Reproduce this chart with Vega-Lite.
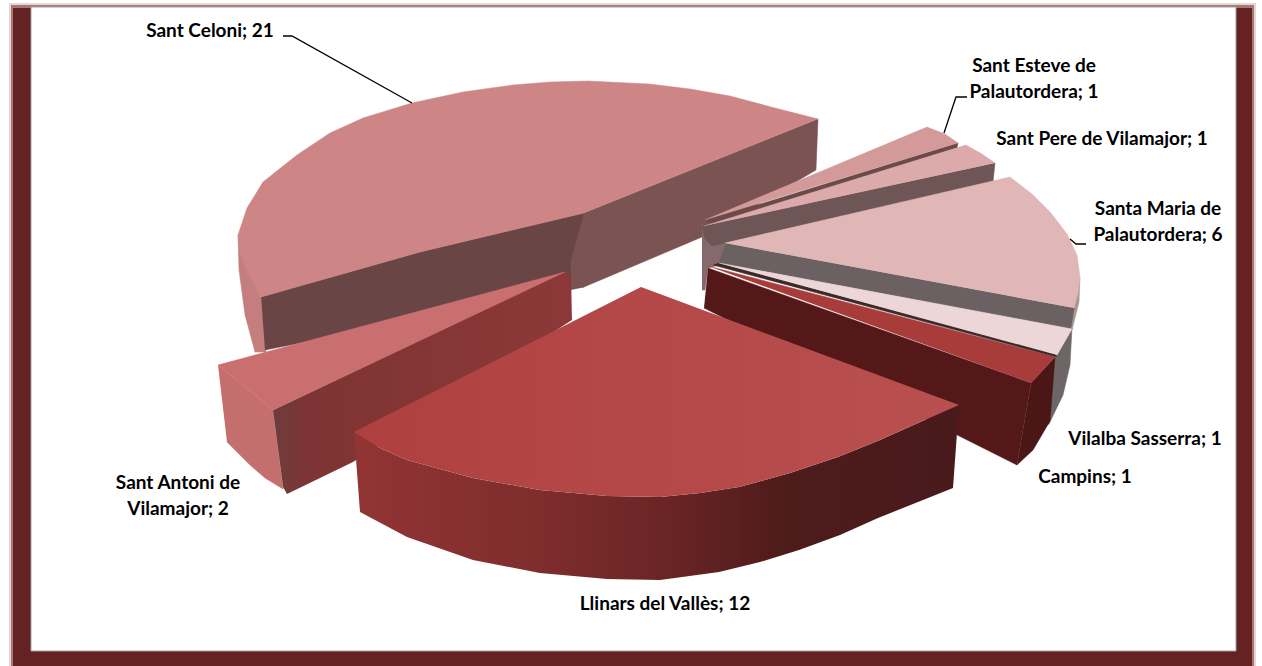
{
"$schema":"https://vega.github.io/schema/vega-lite/v6.json",
"width":1262,"height":666,"padding":0,
"autosize":{"type":"fit","contains":"padding"},
"background":"white",
"view":{"stroke":null},
"datasets":{
"frame":[
{"part":"halo","x":9,"x2":1256,"y":3,"y2":666},
{"part":"fade","x":11,"x2":1254,"y":5,"y2":666},
{"part":"border","x":13,"x2":1252,"y":8,"y2":666},
{"part":"plot","x":31,"x2":1236,"y":7,"y2":651}
],
"faces":[
{"face":"celoni_rim","n":0,"x":238,"y":235},{"face":"celoni_rim","n":1,"x":239,"y":270},{"face":"celoni_rim","n":2,"x":245,"y":315},{"face":"celoni_rim","n":3,"x":255,"y":352},{"face":"celoni_rim","n":4,"x":266,"y":352},{"face":"celoni_rim","n":5,"x":261,"y":297},
{"face":"celoni_wall_a","n":0,"x":261,"y":297},{"face":"celoni_wall_a","n":1,"x":420,"y":252},{"face":"celoni_wall_a","n":2,"x":584,"y":213},{"face":"celoni_wall_a","n":3,"x":584,"y":287},{"face":"celoni_wall_a","n":4,"x":265,"y":350},
{"face":"celoni_wall_b","n":0,"x":584,"y":213},{"face":"celoni_wall_b","n":1,"x":818,"y":119},{"face":"celoni_wall_b","n":2,"x":816,"y":170},{"face":"celoni_wall_b","n":3,"x":702,"y":237},{"face":"celoni_wall_b","n":4,"x":584,"y":287},{"face":"celoni_wall_b","n":5,"x":571,"y":288},{"face":"celoni_wall_b","n":6,"x":571,"y":260},
{"face":"celoni_top","n":0,"x":818,"y":119},{"face":"celoni_top","n":1,"x":771,"y":107},{"face":"celoni_top","n":2,"x":730,"y":96},{"face":"celoni_top","n":3,"x":690,"y":89},{"face":"celoni_top","n":4,"x":649,"y":84},{"face":"celoni_top","n":5,"x":588,"y":81},{"face":"celoni_top","n":6,"x":550,"y":82},{"face":"celoni_top","n":7,"x":513,"y":85},{"face":"celoni_top","n":8,"x":463,"y":92},{"face":"celoni_top","n":9,"x":412,"y":103},{"face":"celoni_top","n":10,"x":363,"y":118},{"face":"celoni_top","n":11,"x":330,"y":133},{"face":"celoni_top","n":12,"x":297,"y":155},{"face":"celoni_top","n":13,"x":263,"y":182},{"face":"celoni_top","n":14,"x":247,"y":208},{"face":"celoni_top","n":15,"x":238,"y":235},{"face":"celoni_top","n":16,"x":240,"y":252},{"face":"celoni_top","n":17,"x":247,"y":272},{"face":"celoni_top","n":18,"x":261,"y":297},{"face":"celoni_top","n":19,"x":420,"y":252},{"face":"celoni_top","n":20,"x":584,"y":213},
{"face":"antoni_rim","n":0,"x":218,"y":365},{"face":"antoni_rim","n":1,"x":273,"y":410},{"face":"antoni_rim","n":2,"x":283,"y":489},{"face":"antoni_rim","n":3,"x":265,"y":478},{"face":"antoni_rim","n":4,"x":250,"y":465},{"face":"antoni_rim","n":5,"x":227,"y":442},
{"face":"antoni_wall","n":0,"x":273,"y":410},{"face":"antoni_wall","n":1,"x":563,"y":272},{"face":"antoni_wall","n":2,"x":571,"y":276},{"face":"antoni_wall","n":3,"x":572,"y":320},{"face":"antoni_wall","n":4,"x":353,"y":462},{"face":"antoni_wall","n":5,"x":287,"y":494},{"face":"antoni_wall","n":6,"x":283,"y":487},
{"face":"antoni_top","n":0,"x":218,"y":365},{"face":"antoni_top","n":1,"x":565,"y":272},{"face":"antoni_top","n":2,"x":273,"y":410},
{"face":"core","n":0,"x":702,"y":224},{"face":"core","n":1,"x":725,"y":243},{"face":"core","n":2,"x":719,"y":265},{"face":"core","n":3,"x":708,"y":268},{"face":"core","n":4,"x":705,"y":290},{"face":"core","n":5,"x":702,"y":290},
{"face":"esteve_wall","n":0,"x":705,"y":221},{"face":"esteve_wall","n":1,"x":958,"y":143},{"face":"esteve_wall","n":2,"x":957,"y":148},{"face":"esteve_wall","n":3,"x":712,"y":224},
{"face":"esteve_top","n":0,"x":705,"y":220},{"face":"esteve_top","n":1,"x":927,"y":127},{"face":"esteve_top","n":2,"x":945,"y":134},{"face":"esteve_top","n":3,"x":958,"y":143},
{"face":"pere_wall","n":0,"x":702,"y":226},{"face":"pere_wall","n":1,"x":995,"y":163},{"face":"pere_wall","n":2,"x":993,"y":182},{"face":"pere_wall","n":3,"x":712,"y":246},{"face":"pere_wall","n":4,"x":704,"y":238},
{"face":"pere_top","n":0,"x":704,"y":226},{"face":"pere_top","n":1,"x":966,"y":145},{"face":"pere_top","n":2,"x":982,"y":154},{"face":"pere_top","n":3,"x":995,"y":163},
{"face":"vilalba_rim","n":0,"x":1057,"y":355},{"face":"vilalba_rim","n":1,"x":1072,"y":328},{"face":"vilalba_rim","n":2,"x":1070,"y":365},{"face":"vilalba_rim","n":3,"x":1063,"y":395},{"face":"vilalba_rim","n":4,"x":1049,"y":424},{"face":"vilalba_rim","n":5,"x":1035,"y":430},{"face":"vilalba_rim","n":6,"x":1040,"y":380},
{"face":"campins_wall","n":0,"x":708,"y":268},{"face":"campins_wall","n":1,"x":1031,"y":383},{"face":"campins_wall","n":2,"x":1017,"y":465},{"face":"campins_wall","n":3,"x":704,"y":308},
{"face":"campins_rim","n":0,"x":1031,"y":383},{"face":"campins_rim","n":1,"x":1055,"y":357},{"face":"campins_rim","n":2,"x":1050,"y":421},{"face":"campins_rim","n":3,"x":1033,"y":450},{"face":"campins_rim","n":4,"x":1017,"y":465},
{"face":"campins_top","n":0,"x":708,"y":266},{"face":"campins_top","n":1,"x":1055,"y":357},{"face":"campins_top","n":2,"x":1031,"y":383},
{"face":"maria_rim","n":0,"x":1080,"y":277},{"face":"maria_rim","n":1,"x":1079,"y":302},{"face":"maria_rim","n":2,"x":1072,"y":330},{"face":"maria_rim","n":3,"x":1070,"y":310},
{"face":"maria_wall","n":0,"x":725,"y":243},{"face":"maria_wall","n":1,"x":1074,"y":308},{"face":"maria_wall","n":2,"x":1071,"y":329},{"face":"maria_wall","n":3,"x":719,"y":263},
{"face":"maria_top","n":0,"x":725,"y":243},{"face":"maria_top","n":1,"x":1010,"y":177},{"face":"maria_top","n":2,"x":1032,"y":194},{"face":"maria_top","n":3,"x":1051,"y":213},{"face":"maria_top","n":4,"x":1067,"y":234},{"face":"maria_top","n":5,"x":1077,"y":255},{"face":"maria_top","n":6,"x":1080,"y":277},{"face":"maria_top","n":7,"x":1078,"y":293},{"face":"maria_top","n":8,"x":1074,"y":308},
{"face":"vilalba_edge","n":0,"x":718,"y":263},{"face":"vilalba_edge","n":1,"x":1057,"y":354},{"face":"vilalba_edge","n":2,"x":1056,"y":357},{"face":"vilalba_edge","n":3,"x":713,"y":265},
{"face":"vilalba_top","n":0,"x":719,"y":263},{"face":"vilalba_top","n":1,"x":1072,"y":329},{"face":"vilalba_top","n":2,"x":1057,"y":355},
{"face":"llinars_side","n":0,"x":354,"y":432},{"face":"llinars_side","n":1,"x":380,"y":448},{"face":"llinars_side","n":2,"x":407,"y":460},{"face":"llinars_side","n":3,"x":473,"y":478},{"face":"llinars_side","n":4,"x":540,"y":490},{"face":"llinars_side","n":5,"x":607,"y":496},{"face":"llinars_side","n":6,"x":660,"y":497},{"face":"llinars_side","n":7,"x":700,"y":493},{"face":"llinars_side","n":8,"x":739,"y":487},{"face":"llinars_side","n":9,"x":790,"y":473},{"face":"llinars_side","n":10,"x":838,"y":457},{"face":"llinars_side","n":11,"x":880,"y":440},{"face":"llinars_side","n":12,"x":918,"y":423},{"face":"llinars_side","n":13,"x":959,"y":405},{"face":"llinars_side","n":14,"x":953,"y":488},{"face":"llinars_side","n":15,"x":918,"y":502},{"face":"llinars_side","n":16,"x":878,"y":518},{"face":"llinars_side","n":17,"x":840,"y":535},{"face":"llinars_side","n":18,"x":799,"y":550},{"face":"llinars_side","n":19,"x":760,"y":562},{"face":"llinars_side","n":20,"x":719,"y":572},{"face":"llinars_side","n":21,"x":660,"y":580},{"face":"llinars_side","n":22,"x":607,"y":579},{"face":"llinars_side","n":23,"x":540,"y":573},{"face":"llinars_side","n":24,"x":473,"y":560},{"face":"llinars_side","n":25,"x":407,"y":537},{"face":"llinars_side","n":26,"x":360,"y":512},
{"face":"llinars_top","n":0,"x":641,"y":287},{"face":"llinars_top","n":1,"x":959,"y":405},{"face":"llinars_top","n":2,"x":918,"y":423},{"face":"llinars_top","n":3,"x":880,"y":440},{"face":"llinars_top","n":4,"x":838,"y":457},{"face":"llinars_top","n":5,"x":790,"y":473},{"face":"llinars_top","n":6,"x":739,"y":487},{"face":"llinars_top","n":7,"x":700,"y":493},{"face":"llinars_top","n":8,"x":660,"y":497},{"face":"llinars_top","n":9,"x":607,"y":496},{"face":"llinars_top","n":10,"x":540,"y":490},{"face":"llinars_top","n":11,"x":473,"y":478},{"face":"llinars_top","n":12,"x":407,"y":460},{"face":"llinars_top","n":13,"x":380,"y":448},{"face":"llinars_top","n":14,"x":354,"y":432}
],
"leaders":[
{"slice":"Sant Celoni","n":0,"x":283,"y":36},{"slice":"Sant Celoni","n":1,"x":292,"y":36},{"slice":"Sant Celoni","n":2,"x":412,"y":103},
{"slice":"Sant Esteve de Palautordera","n":0,"x":967,"y":97},{"slice":"Sant Esteve de Palautordera","n":1,"x":956,"y":97},{"slice":"Sant Esteve de Palautordera","n":2,"x":944,"y":133},
{"slice":"Santa Maria de Palautordera","n":0,"x":1086,"y":244},{"slice":"Santa Maria de Palautordera","n":1,"x":1076,"y":244},{"slice":"Santa Maria de Palautordera","n":2,"x":1070,"y":239}
],
"labels":[
{"line":"Sant Celoni; 21","x":210,"y":31},
{"line":"Sant Esteve de","x":1034,"y":66},
{"line":"Palautordera; 1","x":1034,"y":92},
{"line":"Sant Pere de Vilamajor; 1","x":1102,"y":139},
{"line":"Santa Maria de","x":1158,"y":209},
{"line":"Palautordera; 6","x":1158,"y":235},
{"line":"Vilalba Sasserra; 1","x":1145,"y":439},
{"line":"Campins; 1","x":1085,"y":477},
{"line":"Sant Antoni de","x":178,"y":483},
{"line":"Vilamajor; 2","x":178,"y":509},
{"line":"Llinars del Vallès; 12","x":665,"y":604}
]
},
"encoding":{
"x":{"field":"x","type":"quantitative","scale":{"domain":[0,1262],"nice":false,"zero":false},"axis":null},
"y":{"field":"y","type":"quantitative","scale":{"domain":[666,0],"nice":false,"zero":false},"axis":null}
},
"layer":[
{"data":{"name":"frame"},"transform":[{"filter":{"field":"part","equal":"halo"}}],"mark":{"type":"rect","fill":"#e6d6d5"},"encoding":{"x2":{"field":"x2"},"y2":{"field":"y2"}}},
{"data":{"name":"frame"},"transform":[{"filter":{"field":"part","equal":"fade"}}],"mark":{"type":"rect","fill":"#a87877"},"encoding":{"x2":{"field":"x2"},"y2":{"field":"y2"}}},
{"data":{"name":"frame"},"transform":[{"filter":{"field":"part","equal":"border"}}],"mark":{"type":"rect","fill":"#652222"},"encoding":{"x2":{"field":"x2"},"y2":{"field":"y2"}}},
{"data":{"name":"frame"},"transform":[{"filter":{"field":"part","equal":"plot"}}],"mark":{"type":"rect","fill":"#ffffff","stroke":"#a0a0a0","strokeWidth":1},"encoding":{"x2":{"field":"x2"},"y2":{"field":"y2"}}},
{"data":{"name":"faces"},"transform":[{"filter":{"field":"face","equal":"celoni_rim"}}],"mark":{"type":"line","fill":"#c47e7e","stroke":"#c47e7e","strokeWidth":0.5},"encoding":{"order":{"field":"n"}}},
{"data":{"name":"faces"},"transform":[{"filter":{"field":"face","equal":"celoni_wall_a"}}],"mark":{"type":"line","fill":"#6a4545","stroke":"#6a4545","strokeWidth":0.5},"encoding":{"order":{"field":"n"}}},
{"data":{"name":"faces"},"transform":[{"filter":{"field":"face","equal":"celoni_wall_b"}}],"mark":{"type":"line","fill":"#7b5353","stroke":"#7b5353","strokeWidth":0.5},"encoding":{"order":{"field":"n"}}},
{"data":{"name":"faces"},"transform":[{"filter":{"field":"face","equal":"celoni_top"}}],"mark":{"type":"line","fill":"#cd8585","stroke":"#cd8585","strokeWidth":0.5},"encoding":{"order":{"field":"n"}}},
{"data":{"name":"faces"},"transform":[{"filter":{"field":"face","equal":"antoni_rim"}}],"mark":{"type":"line","fill":"#c46e6e","stroke":"#c46e6e","strokeWidth":0.5},"encoding":{"order":{"field":"n"}}},
{"data":{"name":"faces"},"transform":[{"filter":{"field":"face","equal":"antoni_wall"}}],"mark":{"type":"line","fill":{"gradient":"linear","x1":0,"y1":0,"x2":1,"y2":0,"stops":[{"offset":0,"color":"#6e3c3c"},{"offset":0.12,"color":"#7e3434"},{"offset":1,"color":"#8c3838"}]},"stroke":"transparent","strokeWidth":0},"encoding":{"order":{"field":"n"}}},
{"data":{"name":"faces"},"transform":[{"filter":{"field":"face","equal":"antoni_top"}}],"mark":{"type":"line","fill":"#c96f70","stroke":"#c96f70","strokeWidth":0.5},"encoding":{"order":{"field":"n"}}},
{"data":{"name":"faces"},"transform":[{"filter":{"field":"face","equal":"core"}}],"mark":{"type":"line","fill":"#85696b","stroke":"#85696b","strokeWidth":0.5},"encoding":{"order":{"field":"n"}}},
{"data":{"name":"faces"},"transform":[{"filter":{"field":"face","equal":"esteve_wall"}}],"mark":{"type":"line","fill":"#6c4a4a","stroke":"#6c4a4a","strokeWidth":0.5},"encoding":{"order":{"field":"n"}}},
{"data":{"name":"faces"},"transform":[{"filter":{"field":"face","equal":"esteve_top"}}],"mark":{"type":"line","fill":"#d49a9a","stroke":"#d49a9a","strokeWidth":0.5},"encoding":{"order":{"field":"n"}}},
{"data":{"name":"faces"},"transform":[{"filter":{"field":"face","equal":"pere_wall"}}],"mark":{"type":"line","fill":"#6f5656","stroke":"#6f5656","strokeWidth":0.5},"encoding":{"order":{"field":"n"}}},
{"data":{"name":"faces"},"transform":[{"filter":{"field":"face","equal":"pere_top"}}],"mark":{"type":"line","fill":"#dcaaaa","stroke":"#dcaaaa","strokeWidth":0.5},"encoding":{"order":{"field":"n"}}},
{"data":{"name":"faces"},"transform":[{"filter":{"field":"face","equal":"vilalba_rim"}}],"mark":{"type":"line","fill":"#6e6666","stroke":"#6e6666","strokeWidth":0.5},"encoding":{"order":{"field":"n"}}},
{"data":{"name":"faces"},"transform":[{"filter":{"field":"face","equal":"campins_wall"}}],"mark":{"type":"line","fill":"#541818","stroke":"#541818","strokeWidth":0.5},"encoding":{"order":{"field":"n"}}},
{"data":{"name":"faces"},"transform":[{"filter":{"field":"face","equal":"campins_rim"}}],"mark":{"type":"line","fill":"#4a1616","stroke":"#4a1616","strokeWidth":0.5},"encoding":{"order":{"field":"n"}}},
{"data":{"name":"faces"},"transform":[{"filter":{"field":"face","equal":"campins_top"}}],"mark":{"type":"line","fill":"#a83c3a","stroke":"#a83c3a","strokeWidth":0.5},"encoding":{"order":{"field":"n"}}},
{"data":{"name":"faces"},"transform":[{"filter":{"field":"face","equal":"maria_rim"}}],"mark":{"type":"line","fill":"#a89595","stroke":"#a89595","strokeWidth":0.5},"encoding":{"order":{"field":"n"}}},
{"data":{"name":"faces"},"transform":[{"filter":{"field":"face","equal":"maria_wall"}}],"mark":{"type":"line","fill":"#6b6162","stroke":"#6b6162","strokeWidth":0.5},"encoding":{"order":{"field":"n"}}},
{"data":{"name":"faces"},"transform":[{"filter":{"field":"face","equal":"maria_top"}}],"mark":{"type":"line","fill":"#e0b6b6","stroke":"#e0b6b6","strokeWidth":0.5},"encoding":{"order":{"field":"n"}}},
{"data":{"name":"faces"},"transform":[{"filter":{"field":"face","equal":"vilalba_edge"}}],"mark":{"type":"line","fill":"#3e2a2a","stroke":"#3e2a2a","strokeWidth":0.5},"encoding":{"order":{"field":"n"}}},
{"data":{"name":"faces"},"transform":[{"filter":{"field":"face","equal":"vilalba_top"}}],"mark":{"type":"line","fill":"#ecd6d7","stroke":"#ecd6d7","strokeWidth":0.5},"encoding":{"order":{"field":"n"}}},
{"data":{"name":"faces"},"transform":[{"filter":{"field":"face","equal":"llinars_side"}}],"mark":{"type":"line","fill":{"gradient":"linear","x1":0,"y1":0,"x2":1,"y2":0,"stops":[{"offset":0,"color":"#923434"},{"offset":0.3,"color":"#7f2d2d"},{"offset":0.5,"color":"#6c2525"},{"offset":0.72,"color":"#4e1b1b"},{"offset":1,"color":"#481a1c"}]},"stroke":"transparent","strokeWidth":0},"encoding":{"order":{"field":"n"}}},
{"data":{"name":"faces"},"transform":[{"filter":{"field":"face","equal":"llinars_top"}}],"mark":{"type":"line","fill":{"gradient":"linear","x1":0,"y1":0,"x2":1,"y2":0,"stops":[{"offset":0,"color":"#b04040"},{"offset":1,"color":"#b95050"}]},"stroke":"transparent","strokeWidth":0},"encoding":{"order":{"field":"n"}}},
{"data":{"name":"leaders"},"mark":{"type":"line","stroke":"#000000","strokeWidth":1.3},"encoding":{"detail":{"field":"slice"},"order":{"field":"n"}}},
{"data":{"name":"labels"},"mark":{"type":"text","font":"Lato","fontWeight":"bold","fontSize":19,"align":"center","baseline":"middle","fill":"#000000"},"encoding":{"text":{"field":"line"}}}
]
}
